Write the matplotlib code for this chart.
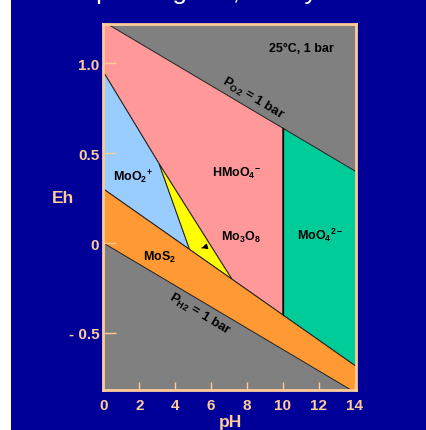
import matplotlib
matplotlib.use('Agg')
import matplotlib.pyplot as plt
from matplotlib.patches import Polygon, Rectangle
import numpy as np

plt.rcParams['font.family'] = 'Liberation Sans'
plt.rcParams['mathtext.fontset'] = 'custom'
plt.rcParams['mathtext.rm'] = 'Liberation Sans:bold'
plt.rcParams['mathtext.bf'] = 'Liberation Sans:bold'
plt.rcParams['mathtext.it'] = 'Liberation Sans:bold'

# water stability lines (Eh = a + b*pH)
o2_line = [1.23, -0.0592]
h2_line = [0.0, -0.0592]
mos2_line = [0.30, -0.070]

# boundary points (pH, Eh)
moo2_left = [0.0, 0.95]
mo3o8_top = [3.1, 0.44]
mo3o8_left = [4.8, -0.036]
mo3o8_right = [7.15, -0.20]
moo4_ph = 10.0

xticks = [0, 2, 4, 6, 8, 10, 12, 14]
yticks = [1.0, 0.5, 0, -0.5]
yticklabels = ['1.0', '0.5', '0', '- 0.5']

xmin, xmax = 0, 14.1
ymin, ymax = -0.814, 1.22

bg = '#000099'
peach = '#FFCC99'

def eh(line, ph):
    return line[0] + line[1] * ph

fig = plt.figure(figsize=(4.27, 4.31), dpi=100)
fig.patch.set_facecolor('white')
fig.add_artist(Rectangle((11 / 427, 0), 1, 1, transform=fig.transFigure,
                         facecolor=bg, edgecolor='none', zorder=-10))

ax = fig.add_axes([103.5 / 427, 1 - 390.5 / 431, 253 / 427, 366 / 431])
ax.set_facecolor('#808080')

edge = dict(edgecolor='#222222', linewidth=0.7)

pink = [(0, eh(o2_line, 0)), (moo4_ph, eh(o2_line, moo4_ph)),
        (moo4_ph, eh(mos2_line, moo4_ph)), tuple(mo3o8_right),
        tuple(mo3o8_top), tuple(moo2_left)]
ax.add_patch(Polygon(pink, closed=True, facecolor='#FF9999', **edge))

teal = [(moo4_ph, eh(o2_line, moo4_ph)), (xmax, eh(o2_line, xmax)),
        (xmax, eh(mos2_line, xmax)), (moo4_ph, eh(mos2_line, moo4_ph))]
ax.add_patch(Polygon(teal, closed=True, facecolor='#00CC99', **edge))

blue = [tuple(moo2_left), tuple(mo3o8_top), tuple(mo3o8_left), (0, eh(mos2_line, 0))]
ax.add_patch(Polygon(blue, closed=True, facecolor='#99CCFF', **edge))

yellow = [tuple(mo3o8_top), tuple(mo3o8_right), tuple(mo3o8_left)]
ax.add_patch(Polygon(yellow, closed=True, facecolor='#FFFF00', **edge))

orange = [(0, eh(mos2_line, 0)), (xmax, eh(mos2_line, xmax)),
          (xmax, eh(h2_line, xmax)), (0, eh(h2_line, 0))]
ax.add_patch(Polygon(orange, closed=True, facecolor='#FF9933', **edge))

ax.plot([moo4_ph, moo4_ph], [eh(o2_line, moo4_ph), eh(mos2_line, moo4_ph)],
        color='black', lw=0.9)

ax.set_xlim(xmin, xmax)
ax.set_ylim(ymin, ymax)

for s in ax.spines.values():
    s.set_color(peach)
    s.set_linewidth(2)

ax.set_xticks(xticks)
ax.set_yticks(yticks)
ax.set_yticklabels(yticklabels)
ax.tick_params(axis='x', direction='in', length=6, width=1, color=peach,
               labelcolor=peach, labelsize=11, pad=6)
ax.tick_params(axis='y', direction='in', length=9, width=1, color=peach,
               labelcolor=peach, labelsize=11, pad=3)
for lab in ax.get_xticklabels() + ax.get_yticklabels():
    lab.set_fontweight('bold')

fig.text(63 / 427, 1 - 199 / 431, 'Eh', color=peach, fontsize=12.5,
         fontweight='bold', ha='center', va='center')
fig.text(230 / 427, 1 - 423 / 431, 'pH', color=peach, fontsize=12.5,
         fontweight='bold', ha='center', va='center')
fig.text(215 / 427, 1.003, 'Eh-pH diagram, Mo system', color='white',
         fontsize=19, ha='center', va='baseline')

tk = dict(color='black', fontweight='bold', ha='center', va='center')
ax.text(11.04, 1.083, '25°C, 1 bar', fontsize=9, **tk)
ax.text(8.31, 0.806, r'P$_{\mathregular{O2}}$ = 1 bar', fontsize=9.5, rotation=-31, **tk)
ax.text(5.35, -0.389, r'P$_{\mathregular{H2}}$ = 1 bar', fontsize=9.5, rotation=-31, **tk)
ax.text(1.67, 0.372, r'MoO$_{\mathregular{2}}$$^{\mathregular{+}}$', fontsize=9, **tk)
ax.text(7.42, 0.394, r'HMoO$_{\mathregular{4}}$$^{\mathregular{-}}$', fontsize=9, **tk)
ax.text(12.05, 0.05, r'MoO$_{\mathregular{4}}$$^{\mathregular{2-}}$', fontsize=9, **tk)
ax.text(3.12, -0.072, r'MoS$_{\mathregular{2}}$', fontsize=9, **tk)
ax.annotate(r'Mo$_{\mathregular{3}}$O$_{\mathregular{8}}$', xy=(5.47, -0.028),
            xytext=(7.64, 0.039), fontsize=9, color='black', fontweight='bold',
            ha='center', va='center',
            arrowprops=dict(arrowstyle='-|>', color='black', lw=0.8,
                            shrinkA=12, shrinkB=0, mutation_scale=8))

fig.savefig('out.png', dpi=100, facecolor=fig.get_facecolor())
